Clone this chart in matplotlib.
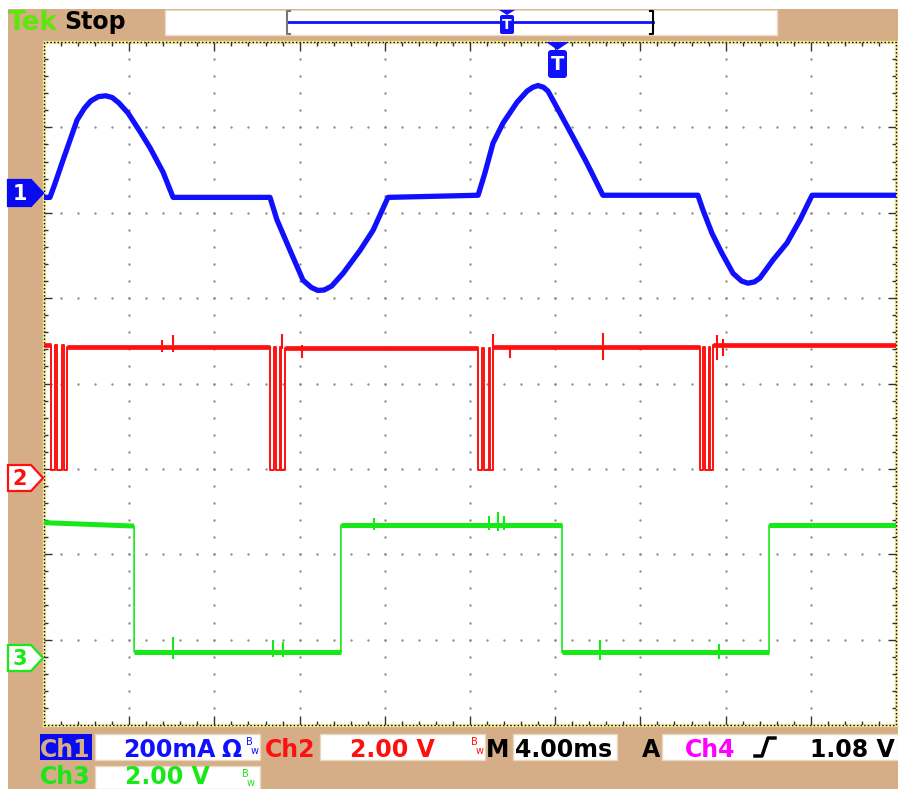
import matplotlib.pyplot as plt
from matplotlib.patches import Rectangle, Polygon, FancyBboxPatch

W, H = 898, 789
TAN = '#d5ad86'
BLUE = '#1010ff'
RED = '#ff1010'
GREEN = '#18e818'

# time axis: 4.00 ms/div, 10 divisions
# Ch1 current, 200 mA/div, ground marker at 6.2 div
ch1_t = [0, 0.28, 0.52, 0.89, 1.22, 1.55, 1.90, 2.20, 2.55, 2.90, 3.20, 3.50, 3.94, 4.51, 4.98, 5.59, 6.06,
         10.61, 10.94, 11.55, 12.16, 12.55, 12.85, 13.15, 13.50, 14.04, 14.84, 15.45, 16.15,
         20.38, 20.70, 21.08, 21.55, 22.21, 22.68, 22.95, 23.19, 23.45, 23.66, 24.23, 24.84, 25.49, 26.24,
         30.70, 30.94, 31.36, 31.83, 32.35, 32.75, 33.05, 33.35, 33.61, 34.22, 34.88, 35.49, 36.06, 40.0]
ch1_ma = [-4, -4, 29, 83, 130, 177, 205, 222, 232, 234, 230, 218, 194, 150, 112, 55, -4,
          -4, -57, -128, -198, -215, -222, -221, -212, -182, -128, -81, -4,
          1, 53, 123, 170, 219, 245, 254, 258, 254, 245, 193, 137, 76, 1,
          1, -34, -88, -135, -182, -200, -205, -202, -193, -151, -111, -57, 1, 1]

# Ch2, 2.00 V/div, ground marker at 2.9 div
ch2_groups = [[(0.33, 0.52), (0.61, 0.85), (0.94, 1.08)],
              [(10.61, 10.80), (10.89, 11.08), (11.13, 11.31)],
              [(20.38, 20.56), (20.66, 20.89), (20.94, 21.08)],
              [(30.80, 30.94), (31.03, 31.22), (31.27, 31.41)]]
ch2_levels = [3.10, 3.05, 3.04, 3.05, 3.11]
ch2_low = 0.17
ch2_spike_t = [5.54, 6.06, 11.17, 12.11, 21.08, 21.88, 26.24, 31.6, 31.9]
ch2_spike_lo = [2.94, 2.94, 3.0, 2.80, 3.0, 2.80, 2.75, 2.75, 2.85]
ch2_spike_hi = [3.22, 3.34, 3.36, 3.10, 3.36, 3.08, 3.38, 3.34, 3.25]

# Ch3, 2.00 V/div, ground marker at 0.8 div
ch3_t = [0, 4.23, 4.23, 13.94, 13.94, 24.32, 24.32, 34.04, 34.04, 40.0]
ch3_v = [3.14, 3.06, 0.11, 0.11, 3.08, 3.08, 0.10, 0.10, 3.08, 3.08]
ch3_spike_t = [6.06, 10.75, 11.2, 15.5, 20.9, 21.3, 21.6, 26.1, 31.7]
ch3_spike_lo = [-0.05, 0.0, 0.0, 2.97, 2.97, 2.95, 2.97, -0.08, -0.05]
ch3_spike_hi = [0.46, 0.39, 0.35, 3.25, 3.30, 3.39, 3.30, 0.39, 0.30]

ch1_off, ch2_off, ch3_off = 6.2, 2.9, 0.8


def div1(v):
    return [ch1_off + x / 200.0 for x in v]


def div2(v):
    return [ch2_off + x / 2.0 for x in v]


def div3(v):
    return [ch3_off + x / 2.0 for x in v]


fig = plt.figure(figsize=(W / 100, H / 100), dpi=100)
fig.patch.set_facecolor('white')

bg = fig.add_axes([0, 0, 1, 1], zorder=0)
bg.set_xlim(0, W)
bg.set_ylim(H, 0)
bg.axis('off')
bg.add_patch(Rectangle((8, 9), W - 8, H - 9, fc=TAN, ec='none'))

# top status bar
bg.add_patch(Rectangle((165, 10), 612, 25, fc='white', ec='#eadcc8', lw=1))
bg.text(8, 30, 'Tek', color='#5ee60a', fontsize=19, fontweight='bold', va='baseline')
bg.text(64, 29, 'Stop', color='black', fontsize=17, fontweight='bold', va='baseline')
bg.plot([287, 653], [22, 22], color=BLUE, lw=2)
bg.plot([290, 287, 287, 290], [11, 11, 34, 34], color='#777777', lw=1.5)
bg.plot([650, 653, 653, 650], [11, 11, 34, 34], color='black', lw=1.5)

# bottom readout
boxes = [(95, 734, 165, 26), (320, 734, 165, 26), (513, 734, 104, 26),
         (662, 734, 236, 26), (95, 766, 165, 23)]
for x0, y0, w, h in boxes:
    bg.add_patch(Rectangle((x0, y0), w, h, fc='white', ec='#e8d8c0', lw=1))
bg.add_patch(Rectangle((40, 734), 52, 26, fc='#0a0af0', ec='none'))
fs = 17
row1 = 757
kw = dict(fontsize=fs, fontweight='bold', va='baseline')
kw2 = dict(fontsize=fs, fontweight='bold', va='bottom')
bg.text(40, row1, 'Ch1', color=TAN, **kw)
bg.text(123, row1, '200mA', color=BLUE, **kw)
bg.text(221, row1, 'Ω', color=BLUE, **kw)
bg.text(265, row1, 'Ch2', color=RED, **kw)
bg.text(350, row1, '2.00 V', color=RED, **kw)
bg.text(486, row1, 'M', color='black', **kw)
bg.text(515, row1, '4.00ms', color='black', **kw)
bg.text(642, row1, 'A', color='black', **kw)
bg.text(685, row1, 'Ch4', color='#ff00ff', **kw)
bg.text(810, row1, '1.08 V', color='black', **kw)
bg.text(40, 789, 'Ch3', color=GREEN, **kw2)
bg.text(125, 789, '2.00 V', color=GREEN, **kw2)
for x0, y0, c in [(246, 734, BLUE), (471, 734, RED), (242, 766, GREEN)]:
    bg.text(x0, y0 + 11, 'B', color=c, fontsize=7, va='baseline')
    bg.text(x0 + 5, y0 + 20, 'w', color=c, fontsize=7, va='baseline')
bg.plot([755, 762, 768, 775], [756, 756, 738, 738], color='black', lw=2.5)

# screen
ax = fig.add_axes([44 / W, (H - 725) / H, 852 / W, 683 / H], zorder=1)
ax.set_xlim(0, 40)
ax.set_ylim(0, 8)
ax.set_facecolor('white')
ax.set_xticks([])
ax.set_yticks([])
for s in ax.spines.values():
    s.set_visible(False)

gx = [4 * k for k in range(1, 10) for j in range(1, 40)]
gy = [0.2 * j for k in range(1, 10) for j in range(1, 40)]
gx += [0.8 * j for k in range(1, 8) for j in range(1, 50)]
gy += [k for k in range(1, 8) for j in range(1, 50)]
ax.plot(gx, gy, ls='none', marker='o', ms=1.7, mfc='#8c8c8c', mec='none', zorder=1)

bx = [0, 40, 40, 0, 0]
by = [0, 0, 8, 8, 0]
ax.plot(bx, by, color='#f2eb9c', lw=2.4, clip_on=False, zorder=2)
ax.plot(bx, by, color='black', lw=1, ls=(0, (1.0, 1.6)), clip_on=False, zorder=2)
for j in range(1, 50):
    L = 0.1 if j % 5 == 0 else 0.05
    ax.vlines(0.8 * j, 8 - L, 8, color='#333333', lw=1, zorder=2)
    ax.vlines(0.8 * j, 0, L, color='#333333', lw=1, zorder=2)
for j in range(1, 40):
    L = 0.38 if j % 5 == 0 else 0.19
    ax.hlines(0.2 * j, 0, L, color='#333333', lw=1, zorder=2)
    ax.hlines(0.2 * j, 40 - L, 40, color='#333333', lw=1, zorder=2)

# Ch1 trace
ax.plot(ch1_t, div1(ch1_ma), color=BLUE, lw=3.8, solid_joinstyle='round', zorder=3)

# Ch2 trace
t2, v2 = [0.0], [ch2_levels[0]]
thick_t, thick_v = [[0.0]], [[ch2_levels[0]]]
for g, group in enumerate(ch2_groups):
    lvl = ch2_levels[g]
    thick_t[-1].append(group[0][0])
    thick_v[-1].append(lvl)
    for i, (a, b) in enumerate(group):
        after = ch2_levels[g + 1] if i == len(group) - 1 else lvl
        t2 += [a, a, b, b]
        v2 += [lvl, ch2_low, ch2_low, after]
    thick_t.append([group[-1][1]])
    thick_v.append([ch2_levels[g + 1]])
t2.append(40.0)
v2.append(ch2_levels[-1])
thick_t[-1].append(40.0)
thick_v[-1].append(ch2_levels[-1])
ax.plot(t2, div2(v2), color=RED, lw=1.4, zorder=3)
for tt, vv in zip(thick_t, thick_v):
    ax.plot(tt, div2(vv), color=RED, lw=3.4, solid_capstyle='butt', zorder=3)
ax.vlines(ch2_spike_t, div2(ch2_spike_lo), div2(ch2_spike_hi), color=RED, lw=1.5, zorder=3)

# Ch3 trace
ax.plot(ch3_t, div3(ch3_v), color=GREEN, lw=1.2, zorder=3)
for i in range(len(ch3_t) - 1):
    if ch3_t[i] != ch3_t[i + 1]:
        ax.plot(ch3_t[i:i + 2], div3(ch3_v[i:i + 2]), color=GREEN, lw=3.6,
                solid_capstyle='butt', zorder=3)
ax.vlines(ch3_spike_t, div3(ch3_spike_lo), div3(ch3_spike_hi), color=GREEN, lw=1.5, zorder=3)

# foreground markers
fg = fig.add_axes([0, 0, 1, 1], zorder=3)
fg.set_xlim(0, W)
fg.set_ylim(H, 0)
fg.axis('off')
fg.patch.set_alpha(0)

for yc, label, face, edge, tc in [(193, '1', '#0a0af0', '#0a0af0', 'white'),
                                  (478, '2', 'white', RED, RED),
                                  (658, '3', 'white', GREEN, GREEN)]:
    fg.add_patch(Polygon([(8, yc - 13), (31, yc - 13), (43, yc), (31, yc + 13), (8, yc + 13)],
                         closed=True, fc=face, ec=edge, lw=1.6))
    fg.text(20, yc + 1, label, color=tc, fontsize=15, fontweight='bold',
            ha='center', va='center')

# trigger position markers
fg.add_patch(Polygon([(546, 42), (569, 42), (557.5, 50)], closed=True, fc=BLUE, ec='none'))
fg.add_patch(FancyBboxPatch((548, 50), 19, 28, boxstyle='round,pad=0,rounding_size=3',
                            fc=BLUE, ec='none'))
fg.text(557.5, 64, 'T', color='white', fontsize=14, fontweight='bold', ha='center', va='center')
fg.add_patch(Polygon([(499, 10), (515, 10), (507, 15)], closed=True, fc=BLUE, ec='none'))
fg.add_patch(FancyBboxPatch((500, 15), 14, 19, boxstyle='round,pad=0,rounding_size=2',
                            fc=BLUE, ec='none'))
fg.text(507, 25, 'T', color='white', fontsize=10, fontweight='bold', ha='center', va='center')

fig.savefig('out.png', dpi=100)
